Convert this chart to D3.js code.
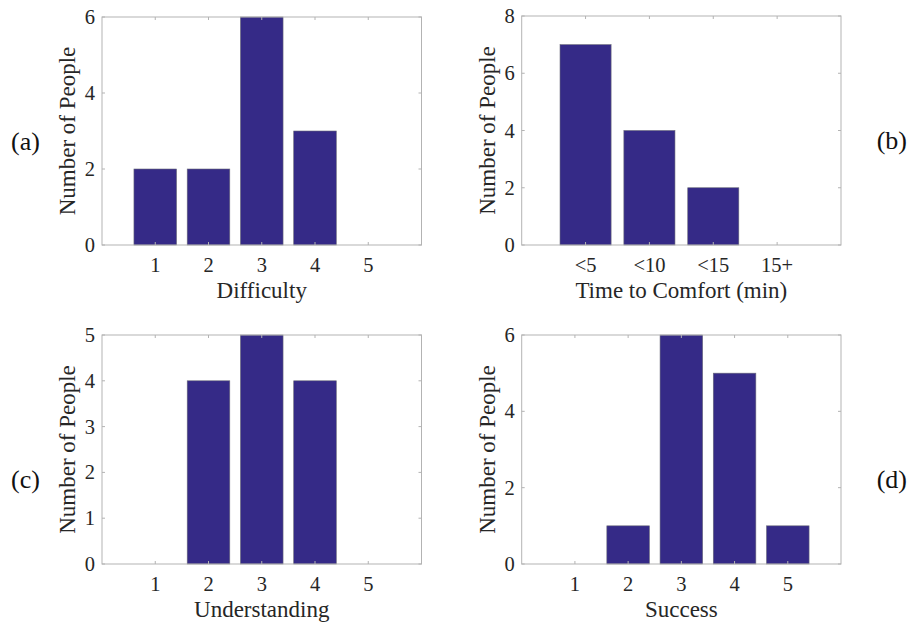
<!DOCTYPE html>
<html>
<head>
<meta charset="utf-8">
<script src="https://cdn.jsdelivr.net/npm/d3@7"></script>
<style>
  html, body { margin: 0; padding: 0; background: #fff; }
  svg { display: block; }
  text { font-family: "Liberation Serif", "Times New Roman", serif; fill: #262626; }
</style>
</head>
<body>
<svg id="chart" width="910" height="622"></svg>
<script>
// ---- Data ----
const difficultyCats = ["1", "2", "3", "4", "5"];
const difficultyVals = [2, 2, 6, 3, 0];
const difficultyTicks = [0, 2, 4, 6];

const timeCats = ["<5", "<10", "<15", "15+"];
const timeVals = [7, 4, 2, 0];
const timeTicks = [0, 2, 4, 6, 8];

const understandingCats = ["1", "2", "3", "4", "5"];
const understandingVals = [0, 4, 5, 4, 0];
const understandingTicks = [0, 1, 2, 3, 4, 5];

const successCats = ["1", "2", "3", "4", "5"];
const successVals = [0, 1, 6, 5, 1];
const successTicks = [0, 2, 4, 6];

const yLabel = "Number of People";

const panels = [
  { cats: difficultyCats, vals: difficultyVals, ticks: difficultyTicks, xlabel: "Difficulty", tag: "(a)",
    box: [102, 17, 421.5, 245], tagPos: [11, 150, "start"] },
  { cats: timeCats, vals: timeVals, ticks: timeTicks, xlabel: "Time to Comfort (min)", tag: "(b)",
    box: [521.7, 16, 841, 245], tagPos: [907, 149, "end"] },
  { cats: understandingCats, vals: understandingVals, ticks: understandingTicks, xlabel: "Understanding", tag: "(c)",
    box: [102, 335, 421.5, 564], tagPos: [11, 488, "start"] },
  { cats: successCats, vals: successVals, ticks: successTicks, xlabel: "Success", tag: "(d)",
    box: [521.7, 335, 841, 564], tagPos: [907, 488, "end"] }
];

const svg = d3.select("#chart");
const axisColor = "#b3b3b3";
const barColor = "#352a87";

panels.forEach(p => {
  const [x0, y0, x1, y1] = p.box;
  const n = p.cats.length;
  const x = d3.scaleLinear().domain([0, n + 1]).range([x0, x1]);
  const yMax = p.ticks[p.ticks.length - 1];
  const y = d3.scaleLinear().domain([0, yMax]).range([y1, y0]);
  const idx = d3.range(1, n + 1);
  const bw = x(0.8) - x(0);

  const g = svg.append("g");

  // bars
  g.selectAll("rect.bar").data(p.vals).join("rect")
    .attr("class", "bar")
    .attr("x", (d, i) => x(i + 1) - bw / 2)
    .attr("width", bw)
    .attr("y", d => y(d))
    .attr("height", d => y(0) - y(d))
    .attr("fill", barColor)
    .attr("stroke", "#6a6a7a")
    .attr("stroke-width", 0.6);

  // box
  g.append("rect")
    .attr("x", x0).attr("y", y0)
    .attr("width", x1 - x0).attr("height", y1 - y0)
    .attr("fill", "none").attr("stroke", axisColor).attr("stroke-width", 1);

  // inner ticks: bottom, top, left, right
  const tl = 3;
  idx.forEach(i => {
    g.append("line").attr("x1", x(i)).attr("x2", x(i)).attr("y1", y1).attr("y2", y1 - tl)
      .attr("stroke", axisColor);
    g.append("line").attr("x1", x(i)).attr("x2", x(i)).attr("y1", y0).attr("y2", y0 + tl)
      .attr("stroke", axisColor);
  });
  p.ticks.forEach(t => {
    g.append("line").attr("x1", x0).attr("x2", x0 + tl).attr("y1", y(t)).attr("y2", y(t))
      .attr("stroke", axisColor);
    g.append("line").attr("x1", x1).attr("x2", x1 - tl).attr("y1", y(t)).attr("y2", y(t))
      .attr("stroke", axisColor);
  });

  // x tick labels
  g.selectAll("text.xt").data(p.cats).join("text")
    .attr("class", "xt")
    .attr("x", (d, i) => x(i + 1))
    .attr("y", y1 + 27)
    .attr("text-anchor", "middle")
    .attr("font-size", 20.5)
    .text(d => d);

  // y tick labels
  g.selectAll("text.yt").data(p.ticks).join("text")
    .attr("class", "yt")
    .attr("x", x0 - 7)
    .attr("y", d => y(d) + 7)
    .attr("text-anchor", "end")
    .attr("font-size", 20.5)
    .text(d => d);

  // x label
  g.append("text")
    .attr("x", (x0 + x1) / 2)
    .attr("y", y1 + 53)
    .attr("text-anchor", "middle")
    .attr("font-size", 23)
    .text(p.xlabel);

  // y label
  g.append("text")
    .attr("transform", `translate(${x0 - 27},${(y0 + y1) / 2}) rotate(-90)`)
    .attr("text-anchor", "middle")
    .attr("font-size", 23)
    .text(yLabel);

  // panel tag
  svg.append("text")
    .attr("x", p.tagPos[0])
    .attr("y", p.tagPos[1])
    .attr("text-anchor", p.tagPos[2])
    .attr("font-size", 26)
    .style("fill", "#111")
    .text(p.tag);
});
</script>
</body>
</html>
